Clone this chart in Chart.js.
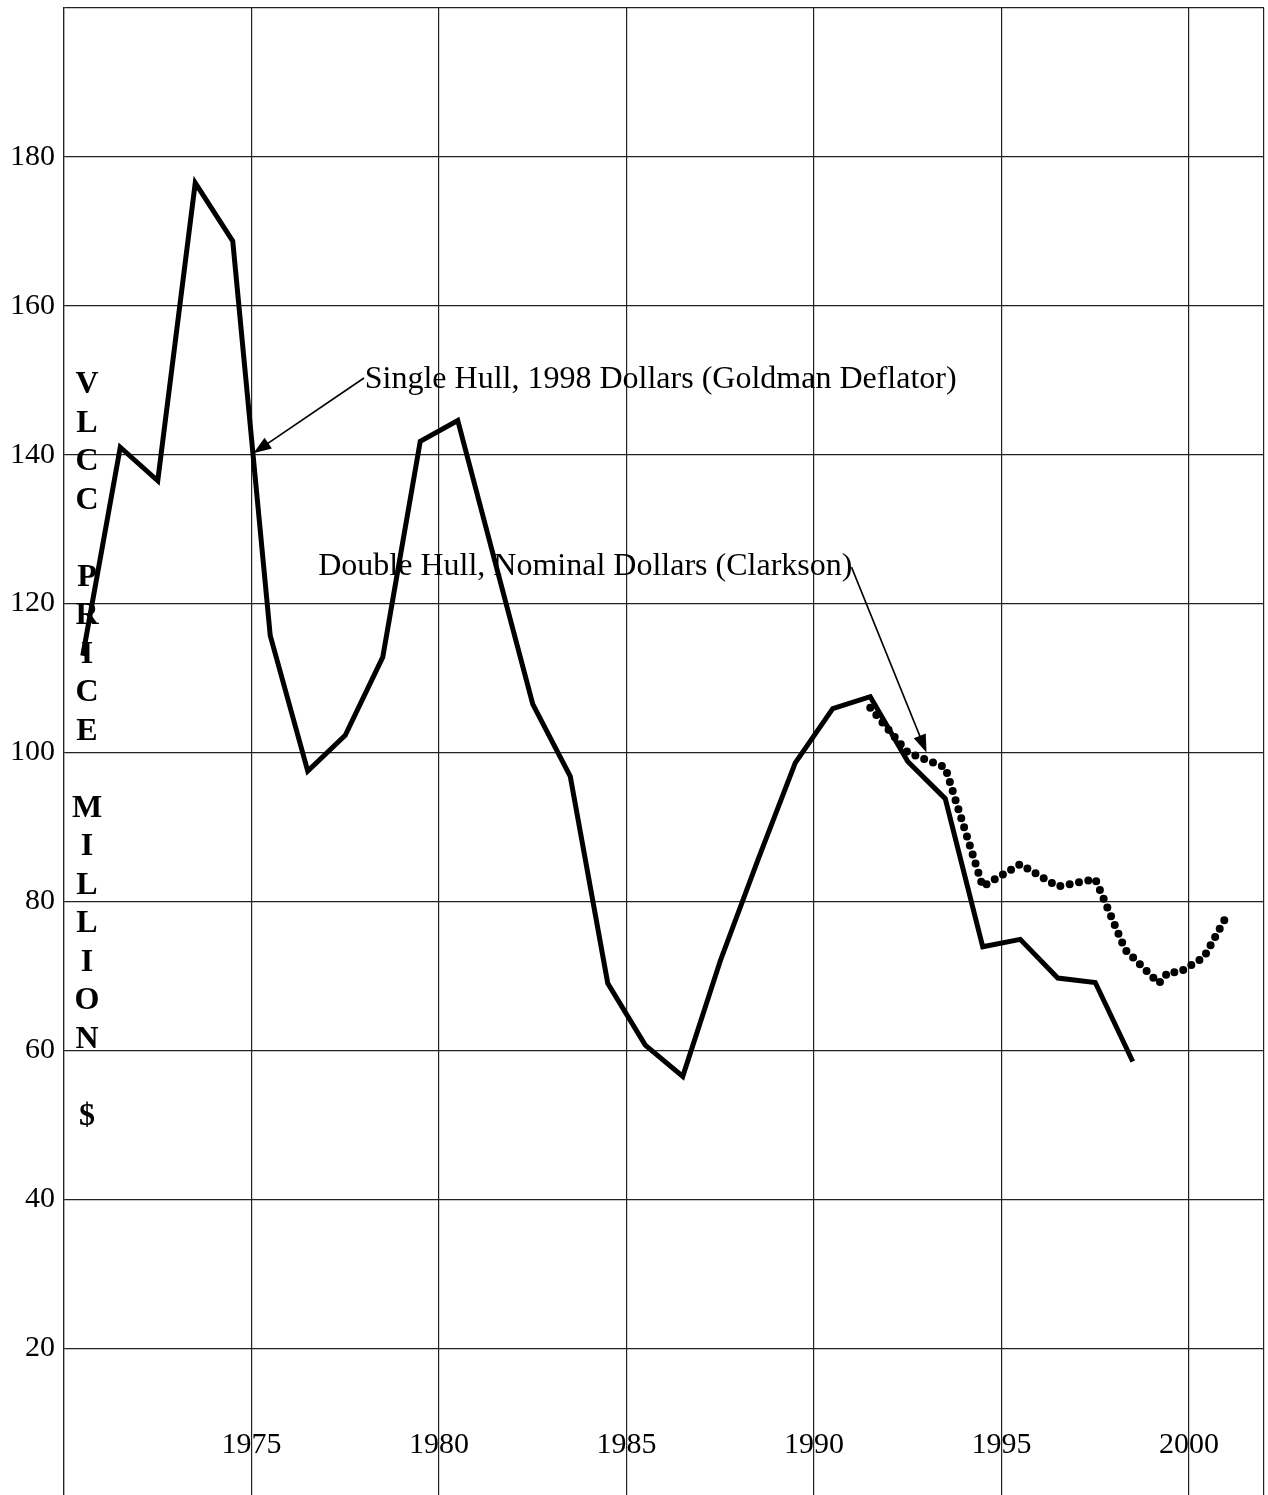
<!DOCTYPE html>
<html>
<head>
<meta charset="utf-8">
<title>VLCC Price</title>
<script src="https://cdn.jsdelivr.net/npm/chart.js@4.4.1/dist/chart.umd.min.js"></script>
<style>
  html, body { margin: 0; padding: 0; background: #fff; overflow: hidden; }
  #wrap { width: 1268px; height: 1497px; }
</style>
</head>
<body>
<div id="wrap"><canvas id="vlccChart"></canvas></div>
<script>
// single hull, 1998 dollars (Goldman deflator)
const singleYears = [1970.5, 1971.5, 1972.5, 1973.5, 1974.5, 1975.5, 1976.5, 1977.5, 1978.5, 1979.5,
  1980.5, 1981.5, 1982.5, 1983.5, 1984.5, 1985.5, 1986.5, 1987.5, 1988.5, 1989.5,
  1990.5, 1991.5, 1992.5, 1993.5, 1994.5, 1995.5, 1996.5, 1997.5, 1998.5];
const singleValues = [113, 141, 136.5, 176.5, 168.7, 115.7, 97.5, 102.3, 112.8, 141.8,
  144.6, 125.5, 106.5, 96.8, 69.0, 60.7, 56.5, 72.0, 85.5, 98.6,
  105.9, 107.5, 98.8, 93.8, 73.9, 74.9, 69.7, 69.1, 58.5];

// double hull, nominal dollars (Clarkson)
const doubleYears = [1991.5, 1992.5, 1993.5, 1994.5, 1995.5, 1996.5, 1997.5, 1998.3, 1999.2,
  1999.45, 1999.75, 2000.4, 2001.0];
const doubleValues = [106, 100, 98, 82, 85, 82, 83, 73.5, 69, 70.5, 70.5, 72.5, 78];

const yearTicks = [1975, 1980, 1985, 1990, 1995, 2000];
const priceTicks = [20, 40, 60, 80, 100, 120, 140, 160, 180];
const titleWords = ['VLCC', 'PRICE', 'MILLION', '$'];

const serif = '"Liberation Serif", "Times New Roman", serif';

function drawArrow(ctx, x0, y0, x1, y1) {
  const ang = Math.atan2(y1 - y0, x1 - x0);
  const len = 18, half = 6.5;
  ctx.beginPath();
  ctx.moveTo(x0, y0);
  ctx.lineTo(x1 - Math.cos(ang) * len * 0.8, y1 - Math.sin(ang) * len * 0.8);
  ctx.lineWidth = 1.6;
  ctx.strokeStyle = '#000';
  ctx.stroke();
  ctx.beginPath();
  ctx.moveTo(x1, y1);
  ctx.lineTo(x1 - Math.cos(ang) * len + Math.sin(ang) * half, y1 - Math.sin(ang) * len - Math.cos(ang) * half);
  ctx.lineTo(x1 - Math.cos(ang) * len - Math.sin(ang) * half, y1 - Math.sin(ang) * len + Math.cos(ang) * half);
  ctx.closePath();
  ctx.fillStyle = '#000';
  ctx.fill();
}

const annotations = {
  id: 'annotations',
  beforeDatasetsDraw(chart) {
    const { ctx, scales: { x, y } } = chart;
    ctx.save();
    ctx.fillStyle = '#000';

    // stacked vertical axis title
    ctx.font = 'bold 32px ' + serif;
    ctx.textAlign = 'center';
    ctx.textBaseline = 'middle';
    const letters = [];
    titleWords.forEach((w, i) => {
      if (i) letters.push('');
      letters.push(...w.split(''));
    });
    letters.forEach((ch, i) => ctx.fillText(ch, 87, 385 + i * 38.5));

    // year labels inside the plot
    ctx.font = '30px ' + serif;
    ctx.textBaseline = 'alphabetic';
    yearTicks.forEach(yr => ctx.fillText(String(yr), x.getPixelForValue(yr), y.getPixelForValue(5.9)));

    // series labels
    ctx.font = '32px ' + serif;
    ctx.textAlign = 'left';
    ctx.fillText('Single Hull, 1998 Dollars (Goldman Deflator)', x.getPixelForValue(1978.02), y.getPixelForValue(148.9));
    ctx.fillText('Double Hull, Nominal Dollars (Clarkson)', x.getPixelForValue(1976.78), y.getPixelForValue(123.8));

    drawArrow(ctx, x.getPixelForValue(1978.0), y.getPixelForValue(150.3), x.getPixelForValue(1975.05), y.getPixelForValue(140.2));
    drawArrow(ctx, x.getPixelForValue(1991.0), y.getPixelForValue(124.9), x.getPixelForValue(1993.0), y.getPixelForValue(100.0));
    ctx.restore();
  }
};

const gridColor = '#222';

new Chart(document.getElementById('vlccChart'), {
  type: 'line',
  data: {
    datasets: [
      {
        label: 'Single Hull, 1998 Dollars (Goldman Deflator)',
        data: singleYears.map((yr, i) => ({ x: yr, y: singleValues[i] })),
        borderColor: '#000',
        borderWidth: 5,
        borderJoinStyle: 'miter',
        pointRadius: 0,
        tension: 0,
        fill: false,
      },
      {
        label: 'Double Hull, Nominal Dollars (Clarkson)',
        data: doubleYears.map((yr, i) => ({ x: yr, y: doubleValues[i] })),
        borderColor: '#000',
        borderWidth: 8,
        borderDash: [0, 9.5],
        borderCapStyle: 'round',
        pointRadius: 0,
        tension: 0,
        fill: false,
      },
    ],
  },
  options: {
    responsive: true,
    maintainAspectRatio: false,
    animation: false,
    devicePixelRatio: 1,
    layout: { padding: { top: 8, right: 4, bottom: 0, left: 0 } },
    plugins: {
      legend: { display: false },
      tooltip: { enabled: false },
    },
    scales: {
      x: {
        type: 'linear',
        min: 1970,
        max: 2002,
        afterBuildTicks: (axis) => {
          axis.ticks = [1970, ...yearTicks, 2002].map(v => ({ value: v }));
        },
        ticks: { display: false },
        grid: { color: gridColor, lineWidth: 1.2, drawTicks: false },
        border: { display: true, color: gridColor, width: 1.2 },
      },
      y: {
        min: 0,
        max: 200,
        ticks: {
          stepSize: 20,
          padding: 9,
          color: '#000',
          font: { family: serif, size: 30 },
          callback: (v) => priceTicks.includes(v) ? String(v) : '',
        },
        grid: { color: gridColor, lineWidth: 1.2, drawTicks: false },
        border: { display: true, color: gridColor, width: 1.2 },
        afterFit: (scale) => {
          scale.width = 64;
          scale.paddingTop = 0;
          scale.paddingBottom = 0;
        },
      },
    },
  },
  plugins: [annotations],
});
</script>
</body>
</html>
